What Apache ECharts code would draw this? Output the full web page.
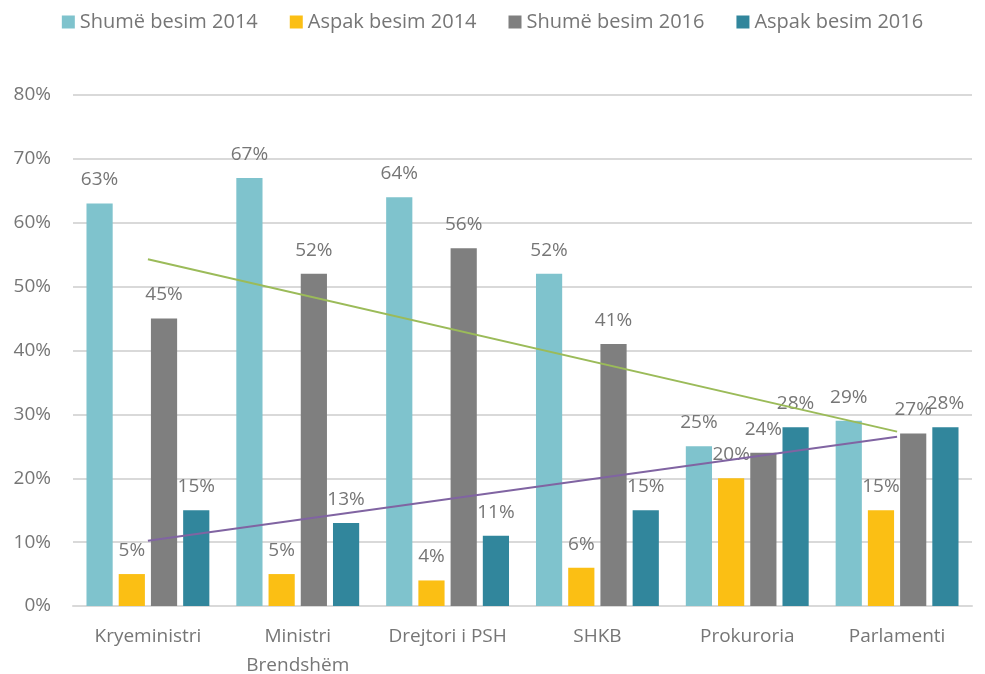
<!DOCTYPE html>
<html>
<head>
<meta charset="utf-8">
<script src="https://cdn.jsdelivr.net/npm/echarts@6/dist/echarts.min.js"></script>
<style>
  html, body { margin: 0; padding: 0; background: #fff; }
  #chart { width: 985px; height: 674px; }
</style>
</head>
<body>
<div id="chart"></div>
<script>
// institucionet
var categories = ['Kryeministri', 'Ministri\nBrendshëm', 'Drejtori i PSH', 'SHKB', 'Prokuroria', 'Parlamenti'];

var shume2014 = [63, 67, 64, 52, 25, 29];
var aspak2014 = [5, 5, 4, 6, 20, 15];
var shume2016 = [45, 52, 56, 41, 24, 27];
var aspak2016 = [15, 13, 11, 15, 28, 28];

// vijat e trendit (lexuar nga grafiku, pika e pare dhe e fundit)
var trendShume2016 = [54.3, 27.3];
var trendAspak2016 = [10.2, 26.5];

var yTicks = [0, 10, 20, 30, 40, 50, 60, 70, 80];

var FONT = 'Open Sans';
var TXT = '#767676';

function trendData(ends) {
    var d = [];
    for (var i = 0; i < categories.length; i++) d.push('-');
    d[0] = ends[0];
    d[categories.length - 1] = ends[1];
    return d;
}

var labelStyle = {
    show: true,
    position: 'top',
    distance: 14,
    color: TXT,
    fontFamily: FONT,
    fontSize: 19,
    formatter: '{c}%'
};

function bar(name, data, color) {
    return {
        name: name,
        type: 'bar',
        data: data,
        barGap: '23%',
        barCategoryGap: '18%',
        itemStyle: { color: color },
        label: labelStyle
    };
}

var chart = echarts.init(document.getElementById('chart'));
var option = {
    animation: false,
    textStyle: { fontFamily: FONT },
    legend: {
        data: ['Shumë besim 2014', 'Aspak besim 2014', 'Shumë besim 2016', 'Aspak besim 2016'],
        top: 7,
        left: 'center',
        icon: 'rect',
        itemWidth: 13,
        itemHeight: 13,
        itemGap: 32,
        textStyle: { color: TXT, fontSize: 20, fontFamily: FONT }
    },
    grid: { left: 73, right: 13, top: 95, bottom: 68, outerBoundsMode: 'none', containLabel: false },
    xAxis: {
        type: 'category',
        data: categories,
        axisLine: { show: true, lineStyle: { color: '#d9d9d9', width: 2 } },
        axisTick: { show: false },
        axisLabel: { interval: 0, color: TXT, fontSize: 19, fontFamily: FONT, margin: 16, lineHeight: 29 }
    },
    yAxis: {
        type: 'value',
        min: yTicks[0],
        max: yTicks[yTicks.length - 1],
        interval: 10,
        axisLine: { show: false },
        axisTick: { show: false },
        axisLabel: { color: TXT, fontSize: 19, fontFamily: FONT, margin: 22, formatter: '{value}%' },
        splitLine: { lineStyle: { color: '#d9d9d9', width: 2 } }
    },
    series: [
        bar('Shumë besim 2014', shume2014, '#7fc3cd'),
        bar('Aspak besim 2014', aspak2014, '#fbbf14'),
        bar('Shumë besim 2016', shume2016, '#7f7f7f'),
        bar('Aspak besim 2016', aspak2016, '#31869c'),
        {
            name: 'Trend Shumë 2016',
            type: 'line',
            data: trendData(trendShume2016),
            connectNulls: true,
            symbol: 'none',
            silent: true,
            z: 5,
            lineStyle: { color: '#9bbb59', width: 2 }
        },
        {
            name: 'Trend Aspak 2016',
            type: 'line',
            data: trendData(trendAspak2016),
            connectNulls: true,
            symbol: 'none',
            silent: true,
            z: 5,
            lineStyle: { color: '#8064a2', width: 2 }
        }
    ]
};
chart.setOption(option);
</script>
</body>
</html>
